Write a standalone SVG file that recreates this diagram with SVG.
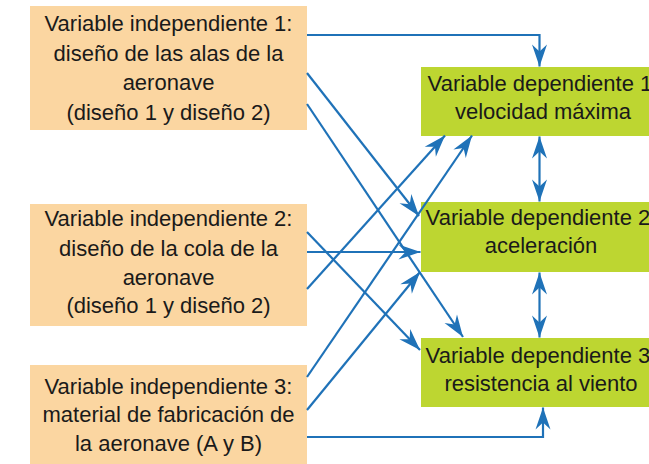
<svg xmlns="http://www.w3.org/2000/svg" width="649" height="464" viewBox="0 0 649 464">
<defs>
<style>
.ind{fill:#fbd6a1}
.dep{fill:#bdd631}
.t{font-family:"Liberation Sans",Arial,sans-serif;font-size:22px;fill:#1a1a1a;text-anchor:middle}
.c{fill:none;stroke:#1f72b8;stroke-width:2.2}
</style>
<marker id="ah" markerUnits="userSpaceOnUse" markerWidth="26" markerHeight="20" viewBox="-24 -10 26 20" refX="0" refY="0" orient="auto-start-reverse">
<path d="M0,0 L-22,-7.5 L-15,0 L-22,7.5 Z" fill="#1f72b8"/>
</marker>
</defs>
<rect width="649" height="464" fill="#ffffff"/>
<g id="ind1">
<rect class="ind" x="30" y="6" width="277" height="124"/>
<text class="t" x="168.5" y="31">Variable independiente 1:</text>
<text class="t" x="168.5" y="60.5">diseño de las alas de la</text>
<text class="t" x="168.5" y="90">aeronave</text>
<text class="t" x="168.5" y="119.5">(diseño 1 y diseño 2)</text>
</g>
<g id="ind2">
<rect class="ind" x="30" y="204" width="277" height="122"/>
<text class="t" x="168.5" y="226">Variable independiente 2:</text>
<text class="t" x="168.5" y="255.5">diseño de la cola de la</text>
<text class="t" x="168.5" y="284.5">aeronave</text>
<text class="t" x="168.5" y="313">(diseño 1 y diseño 2)</text>
</g>
<g id="ind3">
<rect class="ind" x="30" y="365" width="277" height="105"/>
<text class="t" x="168.5" y="393.5">Variable independiente 3:</text>
<text class="t" x="168.5" y="422">material de fabricación de</text>
<text class="t" x="168.5" y="450.5">la aeronave (A y B)</text>
</g>
<g id="dep1">
<rect class="dep" x="421" y="67" width="244" height="69"/>
<text class="t" x="543" y="90.5">Variable dependiente 1:</text>
<text class="t" x="543" y="118.5">velocidad máxima</text>
</g>
<g id="dep2">
<rect class="dep" x="421" y="202" width="244" height="70"/>
<text class="t" x="541" y="225">Variable dependiente 2:</text>
<text class="t" x="541" y="253">aceleración</text>
</g>
<g id="dep3">
<rect class="dep" x="421" y="338" width="244" height="69"/>
<text class="t" x="541" y="363">Variable dependiente 3:</text>
<text class="t" x="541" y="391">resistencia al viento</text>
</g>
<g id="connectors">
<polyline class="c" points="307,35 539.5,35 539.5,66.5" marker-end="url(#ah)"/>
<line class="c" x1="307" y1="73" x2="419" y2="216" marker-end="url(#ah)"/>
<line class="c" x1="307" y1="104" x2="463" y2="337" marker-end="url(#ah)"/>
<line class="c" x1="307" y1="232" x2="420" y2="350" marker-end="url(#ah)"/>
<line class="c" x1="307" y1="252" x2="420.5" y2="252" marker-end="url(#ah)"/>
<line class="c" x1="307" y1="289" x2="445" y2="135.5" marker-end="url(#ah)"/>
<line class="c" x1="307" y1="377" x2="472" y2="135.5" marker-end="url(#ah)"/>
<line class="c" x1="307" y1="410" x2="420" y2="272" marker-end="url(#ah)"/>
<polyline class="c" points="307,437 543,437 543,407.5" marker-end="url(#ah)"/>
<line class="c" x1="539.5" y1="136.5" x2="539.5" y2="201.5" marker-start="url(#ah)" marker-end="url(#ah)"/>
<line class="c" x1="539.5" y1="272.5" x2="539.5" y2="337.5" marker-start="url(#ah)" marker-end="url(#ah)"/>
</g>
</svg>
